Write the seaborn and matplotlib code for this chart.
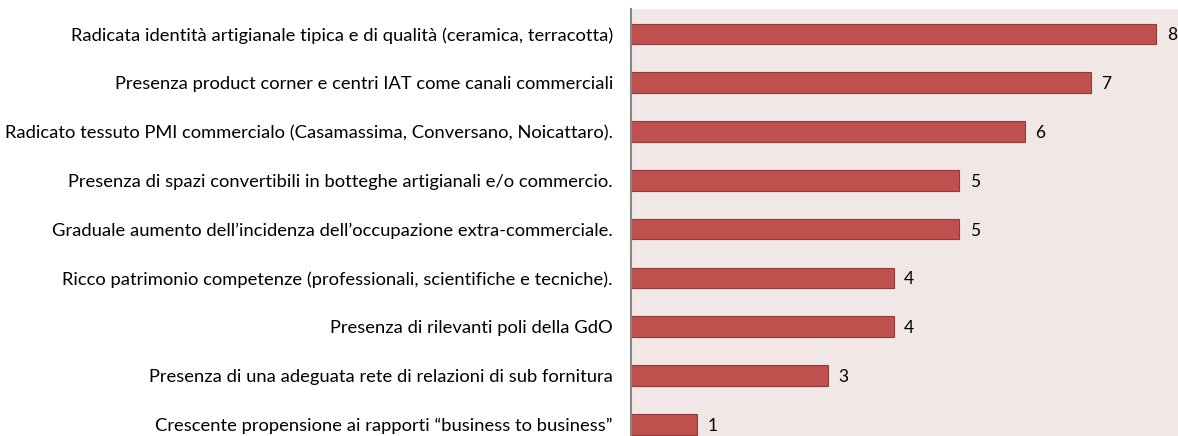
import matplotlib
matplotlib.use("Agg")
import matplotlib.pyplot as plt
import seaborn as sns
import pandas as pd

labels = [
    "Radicata identità artigianale tipica e di qualità (ceramica, terracotta)",
    "Presenza product corner e centri IAT come canali commerciali",
    "Radicato tessuto PMI commercialo (Casamassima, Conversano, Noicattaro).",
    "Presenza di spazi convertibili in botteghe artigianali e/o commercio.",
    "Graduale aumento dell\u2019incidenza dell\u2019occupazione extra-commerciale.",
    "Ricco patrimonio competenze (professionali, scientifiche e tecniche).",
    "Presenza di rilevanti poli della GdO",
    "Presenza di una adeguata rete di relazioni di sub fornitura",
    "Crescente propensione ai rapporti \u201cbusiness to business\u201d",
]
values = [8, 7, 6, 5, 5, 4, 4, 3, 1]

df = pd.DataFrame({"label": labels, "value": values})

sns.set_style("white")
plt.rcParams['font.family'] = ['Lato', 'DejaVu Sans']

fig = plt.figure(figsize=(11.78, 4.36), dpi=100)
ax = fig.add_axes([631 / 1178, 0, 1 - 631 / 1178, 427 / 436])
ax.set_facecolor("#F2E7E7")

sns.barplot(data=df, x="value", y="label", orient="h", color="#C0504D",
            saturation=1, width=0.42, edgecolor="#8E3B39", linewidth=0.8, ax=ax)

for i, v in enumerate(values):
    ax.text(v + 0.16, i + 0.03, str(v), va="center", ha="left", fontsize=12.5, color="black")

ax.set_xlim(0, 8.33)
ax.set_ylim(8.24, -0.51)
ax.set_xlabel("")
ax.set_ylabel("")
ax.set_xticks([])
ax.tick_params(axis="y", length=0, pad=13, labelsize=13.2, labelcolor="black")
for s in ["top", "right", "bottom"]:
    ax.spines[s].set_visible(False)
ax.spines["left"].set_color("#868686")
ax.spines["left"].set_linewidth(1.5)

fig.savefig("out.png", dpi=100)
